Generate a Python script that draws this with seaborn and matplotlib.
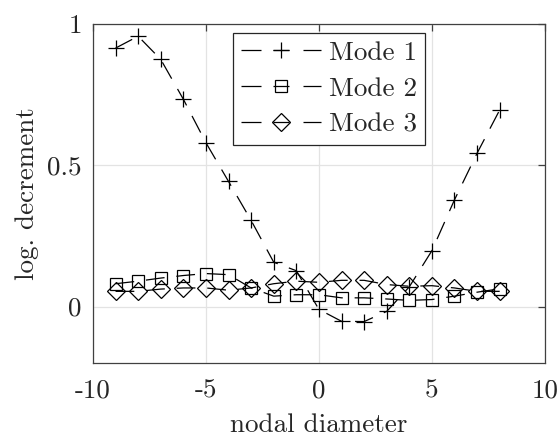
import matplotlib
matplotlib.use("Agg")
import matplotlib.pyplot as plt
import seaborn as sns
import pandas as pd

nodal_diameter = [-9, -8, -7, -6, -5, -4, -3, -2, -1, 0, 1, 2, 3, 4, 5, 6, 7, 8]
mode1 = [0.915, 0.957, 0.875, 0.734, 0.58, 0.443, 0.305, 0.157, 0.127, -0.01,
         -0.052, -0.053, -0.017, 0.07, 0.198, 0.378, 0.543, 0.696]
mode2 = [0.081, 0.09, 0.101, 0.11, 0.117, 0.113, 0.066, 0.037, 0.042, 0.042,
         0.031, 0.031, 0.027, 0.022, 0.025, 0.037, 0.051, 0.063]
mode3 = [0.054, 0.054, 0.062, 0.066, 0.066, 0.058, 0.066, 0.081, 0.09, 0.086,
         0.093, 0.093, 0.078, 0.072, 0.074, 0.066, 0.054, 0.054]
labels = ["Mode 1", "Mode 2", "Mode 3"]
xticks = [-10, -5, 0, 5, 10]
yticks = [0, 0.5, 1]
ytick_labels = ["0", "0.5", "1"]

sns.set_theme(style="white")
plt.rcParams["font.family"] = ["cmr10", "DejaVu Serif"]
plt.rcParams["mathtext.fontset"] = "cm"
plt.rcParams["axes.unicode_minus"] = False
plt.rcParams["axes.formatter.use_mathtext"] = True

FS = 19.5
LW = 0.9
fig = plt.figure(figsize=(5.6, 4.38), dpi=100)
ax = fig.add_axes([0.166, 0.171, 0.807, 0.774])

df = pd.DataFrame({"x": nodal_diameter, "m1": mode1, "m2": mode2, "m3": mode3})
specs = [("m1", "+", 11), ("m2", "s", 8.8), ("m3", "D", 8.8)]
for (col, mk, ms), lab in zip(specs, labels):
    sns.lineplot(data=df, x="x", y=col, ax=ax, color="black", lw=LW,
                 marker=mk, markersize=ms, mfc="none", mec="black", mew=LW,
                 dashes=(15, 9.5), label=lab)

ax.set_xlim(-10, 10)
ax.set_ylim(-0.2, 1)
ax.set_xticks(xticks)
ax.set_xticklabels([str(t) for t in xticks])
ax.set_yticks(yticks)
ax.set_yticklabels(ytick_labels)
ax.grid(True, color="#e3e3e3", lw=0.9)
ax.set_axisbelow(True)
for s in ax.spines.values():
    s.set_color("#404040")
    s.set_linewidth(0.9)
    s.set_visible(True)
ax.tick_params(axis="both", direction="in", length=5, width=0.9, color="#404040",
               top=True, right=True, labelsize=FS, labelcolor="#262626")
ax.tick_params(axis="x", pad=11)
ax.tick_params(axis="y", pad=8)
ax.set_xlabel("nodal diameter", fontsize=FS, color="#262626", labelpad=8)
ax.set_ylabel("log. decrement", fontsize=FS, color="#262626", labelpad=6)

leg = ax.legend(loc="upper left", bbox_to_anchor=(0.31, 0.975), borderaxespad=0,
                fontsize=FS, handlelength=2.95, handletextpad=0.3,
                labelspacing=0.45, borderpad=0.3, frameon=True, fancybox=False,
                edgecolor="#262626", framealpha=1)
leg.get_frame().set_linewidth(0.9)
for ln in leg.get_lines():
    ln.set_dashes((16, 9.6, 12.8, 11.2))

fig.savefig("out.png", dpi=100)
